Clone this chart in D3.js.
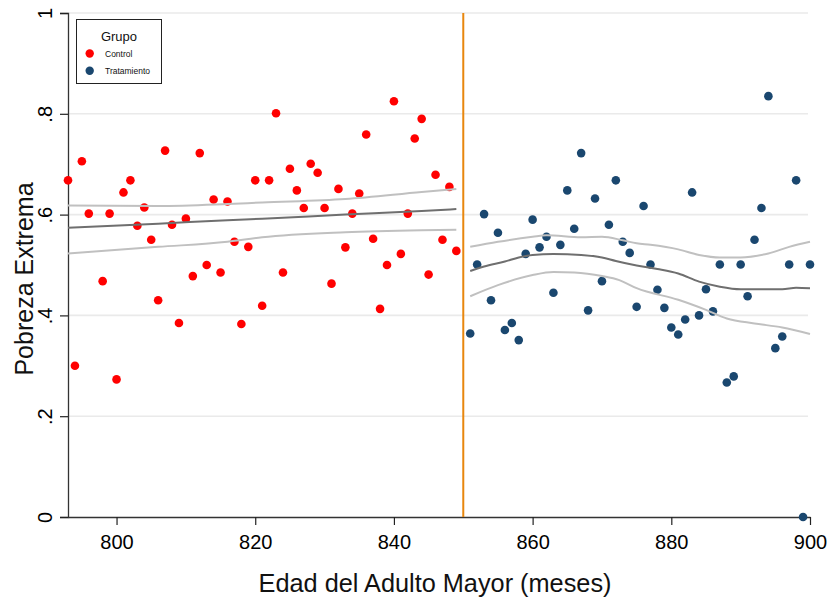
<!DOCTYPE html>
<html>
<head>
<meta charset="utf-8">
<script src="https://cdn.jsdelivr.net/npm/d3@7"></script>
<style>
  html, body { margin: 0; padding: 0; background: #fff; }
  svg text { font-family: "Liberation Sans", Arial, sans-serif; }
</style>
</head>
<body>
<svg id="chart" width="831" height="603"></svg>
<script>
// Control group: months 793–849
const controlMonths = [793,794,795,796,798,799,800,801,802,803,804,805,806,807,808,809,810,811,812,813,814,815,816,817,818,819,820,821,822,823,824,825,826,827,828,829,830,831,832,833,834,835,836,837,838,839,840,841,842,843,844,845,846,847,848,849];
const controlValues = [0.668,0.300,0.706,0.602,0.468,0.602,0.273,0.644,0.668,0.578,0.614,0.550,0.430,0.727,0.580,0.385,0.592,0.478,0.722,0.500,0.630,0.485,0.626,0.546,0.383,0.536,0.668,0.419,0.668,0.801,0.485,0.691,0.648,0.613,0.701,0.683,0.613,0.463,0.651,0.535,0.602,0.642,0.759,0.552,0.413,0.500,0.825,0.522,0.602,0.751,0.790,0.481,0.679,0.550,0.655,0.528];

// Treatment group: months 851–900
const treatMonths = d3.range(851, 901);
const treatValues = [0.364,0.501,0.601,0.430,0.564,0.371,0.385,0.351,0.522,0.590,0.535,0.556,0.445,0.540,0.648,0.572,0.722,0.410,0.632,0.468,0.580,0.668,0.546,0.524,0.417,0.617,0.501,0.451,0.415,0.376,0.362,0.392,0.644,0.400,0.452,0.408,0.501,0.267,0.279,0.501,0.438,0.550,0.613,0.835,0.335,0.358,0.501,0.668,0.000,0.501];

// Control linear fit and confidence band
const ctrlFitMonths = [793,806,816,821,833,844,849];
const ctrlFit      = [0.574,0.582,0.589,0.592,0.600,0.607,0.611];
const ctrlUpper    = [0.618,0.617,0.621,0.624,0.631,0.645,0.651];
const ctrlLower    = [0.523,0.536,0.546,0.555,0.565,0.569,0.570];

// Treatment smoothed fit
const trtFitMonths = [851,853,856,858,860,863,867,870,872,875,878,881,884,887,890,893,896,898,900];
const trtFit       = [0.488,0.497,0.507,0.515,0.520,0.522,0.520,0.515,0.508,0.499,0.492,0.483,0.467,0.457,0.452,0.452,0.452,0.455,0.454];
// Treatment confidence band
const trtUpMonths  = [851,855,860,862,867,870,873,875,877,881,884,887,890,894,897,900];
const trtUpper     = [0.536,0.546,0.556,0.559,0.555,0.556,0.549,0.543,0.540,0.531,0.520,0.515,0.515,0.523,0.536,0.546];
const trtLoMonths  = [851,855,860,863,866,870,872.5,875,881,885,888,892,896,900];
const trtLower     = [0.438,0.460,0.480,0.486,0.485,0.478,0.470,0.454,0.431,0.411,0.394,0.384,0.376,0.363];

const cutoff = 850;
const xTicks = [800,820,840,860,880,900];
const yTicks = [0,0.2,0.4,0.6,0.8,1];
const yTickLabels = ["0",".2",".4",".6",".8","1"];
const groups = ["Control","Tratamiento"];
const groupColors = ["#ff0000","#1a476f"];

const svg = d3.select("#chart");
const plotLeft = 68, plotRight = 810, plotTop = 13, plotBottom = 517;

const x = d3.scaleLinear().domain([793, 900]).range([plotLeft, plotRight]);
const y = d3.scaleLinear().domain([0, 1]).range([plotBottom, plotTop]);

// Horizontal gridlines
svg.append("g").selectAll("line").data(yTicks.filter(d => d > 0)).join("line")
  .attr("x1", plotLeft).attr("x2", plotRight - 2)
  .attr("y1", d => y(d)).attr("y2", d => y(d))
  .attr("stroke", "#eaeaea").attr("stroke-width", 1.6);

// Axes
const yAxis = d3.axisLeft(y).tickValues(yTicks).tickSize(8).tickFormat((d, i) => yTickLabels[i]);
const gy = svg.append("g").attr("transform", `translate(${plotLeft},0)`).call(yAxis);
gy.select(".domain").attr("stroke", "#333").attr("stroke-width", 1.3);
gy.selectAll(".tick line").attr("stroke", "#222").attr("stroke-width", 1.2);
gy.selectAll(".tick text")
  .attr("font-size", 20).attr("fill", "#000")
  .attr("x", 0).attr("dy", 0)
  .attr("text-anchor", "middle")
  .attr("transform", "translate(-16,0) rotate(-90)");

const xAxis = d3.axisBottom(x).tickValues(xTicks).tickSize(8).tickSizeOuter(0);
const gx = svg.append("g").attr("transform", `translate(0,${plotBottom})`).call(xAxis);
gx.select(".domain").attr("stroke", "#333").attr("stroke-width", 1.3);
gx.selectAll(".tick line").attr("stroke", "#222").attr("stroke-width", 1.2);
gx.selectAll(".tick text").attr("font-size", 20).attr("fill", "#000").attr("y", 32).attr("dy", 0);

// Axis titles
svg.append("text").attr("x", 435).attr("y", 591.5).attr("text-anchor", "middle")
  .attr("font-size", 25.3).attr("fill", "#111").text("Edad del Adulto Mayor (meses)");
svg.append("text").attr("transform", `translate(33,279) rotate(-90)`)
  .attr("text-anchor", "middle").attr("font-size", 25).attr("fill", "#111").text("Pobreza Extrema");

// Points
svg.append("g").selectAll("circle").data(controlMonths.map((m, i) => [m, controlValues[i]])).join("circle")
  .attr("cx", d => x(d[0])).attr("cy", d => y(d[1])).attr("r", 4.3).attr("fill", groupColors[0]);
svg.append("g").selectAll("circle").data(treatMonths.map((m, i) => [m, treatValues[i]])).join("circle")
  .attr("cx", d => x(d[0])).attr("cy", d => y(d[1])).attr("r", 4.3).attr("fill", groupColors[1]);

// Fit lines
const line = d3.line().x(d => x(d[0])).y(d => y(d[1])).curve(d3.curveMonotoneX);
function drawLine(ms, vs, color) {
  svg.append("path").datum(ms.map((m, i) => [m, vs[i]]))
    .attr("d", line).attr("fill", "none").attr("stroke", color).attr("stroke-width", 2);
}
drawLine(ctrlFitMonths, ctrlUpper, "#c0c0c0");
drawLine(ctrlFitMonths, ctrlLower, "#c0c0c0");
drawLine(ctrlFitMonths, ctrlFit, "#6f6f6f");
drawLine(trtUpMonths, trtUpper, "#c0c0c0");
drawLine(trtLoMonths, trtLower, "#c0c0c0");
drawLine(trtFitMonths, trtFit, "#6f6f6f");

// Cutoff line
svg.append("line").attr("x1", x(cutoff)).attr("x2", x(cutoff))
  .attr("y1", y(1)).attr("y2", y(0))
  .attr("stroke", "#e8870e").attr("stroke-width", 2);

// Legend
const lg = svg.append("g");
lg.append("rect").attr("x", 76.5).attr("y", 19.5).attr("width", 85).attr("height", 64)
  .attr("fill", "#fff").attr("stroke", "#222").attr("stroke-width", 1);
lg.append("text").attr("x", 119).attr("y", 41).attr("text-anchor", "middle")
  .attr("font-size", 13).attr("fill", "#111").text("Grupo");
groups.forEach((g, i) => {
  const cy = 53.5 + i * 17.3;
  lg.append("circle").attr("cx", 89.7).attr("cy", cy).attr("r", 4.2).attr("fill", groupColors[i]);
  lg.append("text").attr("x", 105).attr("y", cy + 3).attr("font-size", 8.5).attr("fill", "#111").text(g);
});
</script>
</body>
</html>
